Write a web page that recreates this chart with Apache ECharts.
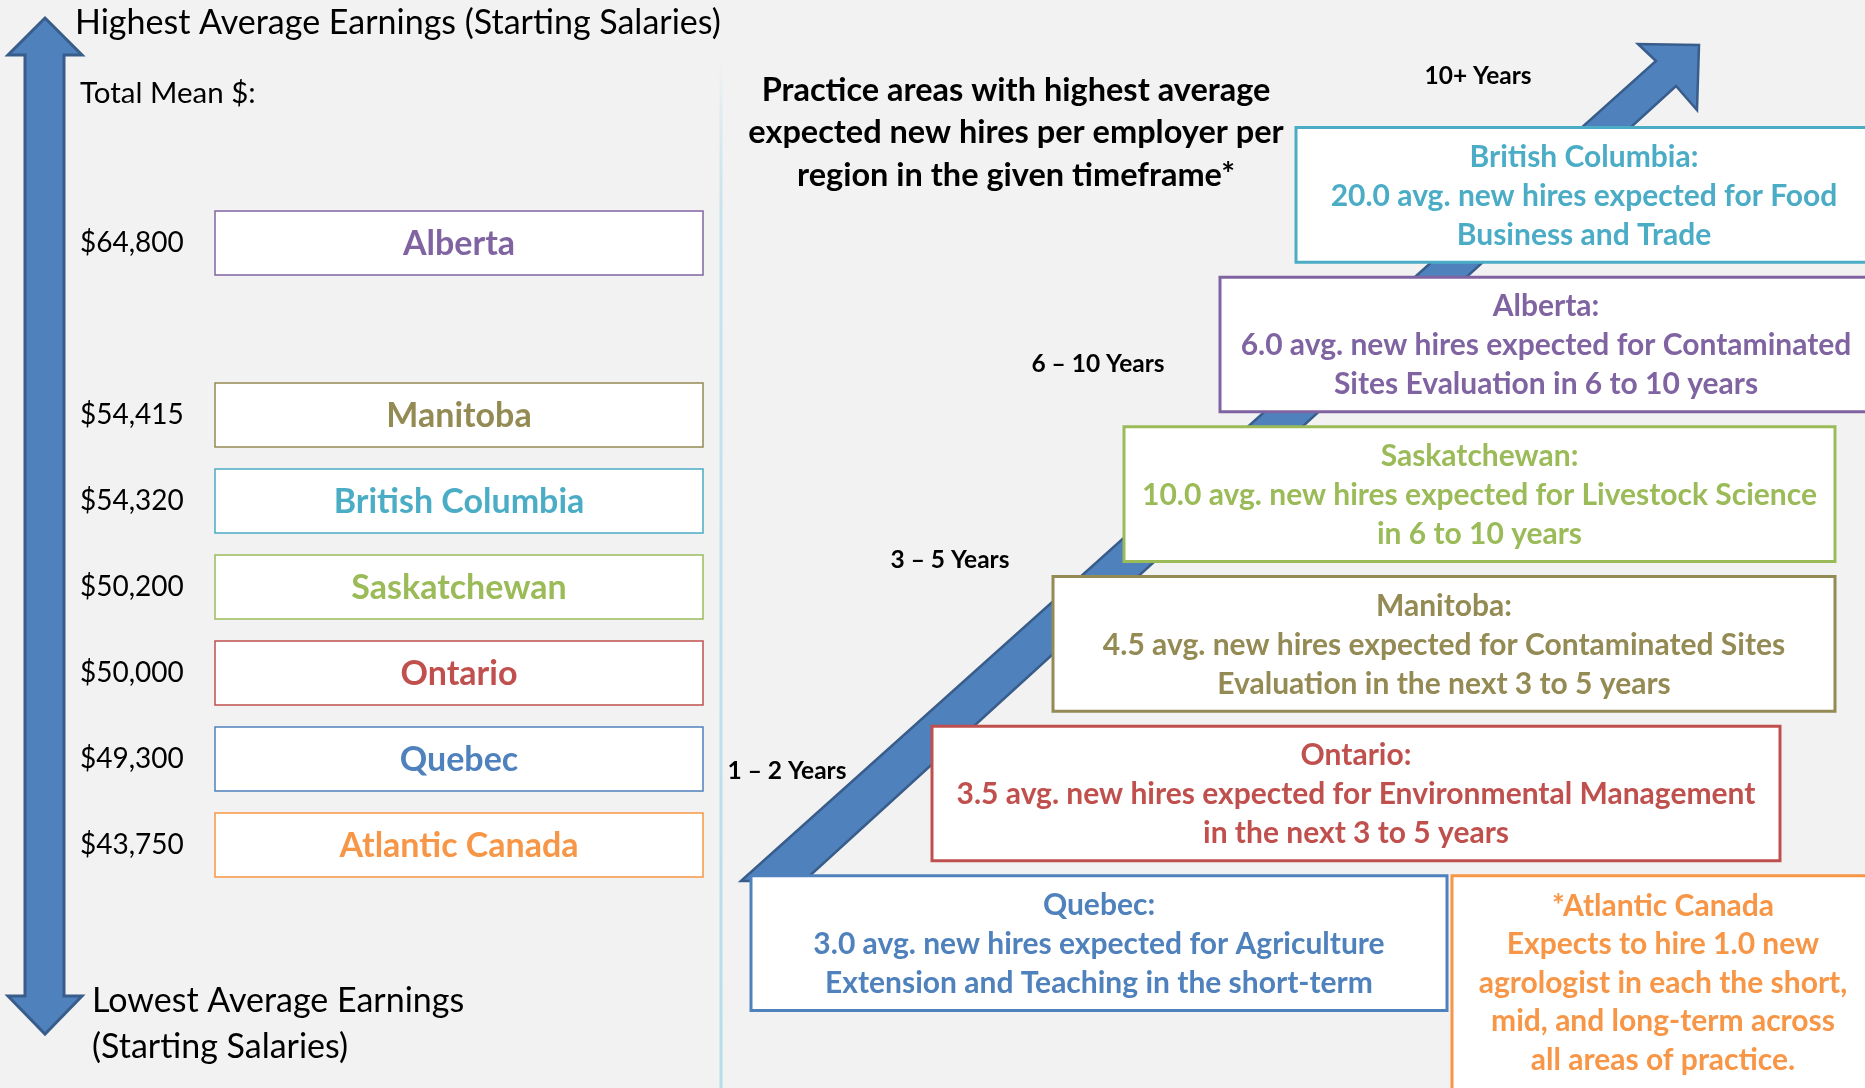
<!DOCTYPE html>
<html>
<head>
<meta charset="utf-8">
<title>Agrologist starting salaries and expected hires by region</title>
<script src="https://cdn.jsdelivr.net/npm/echarts@6/dist/echarts.min.js"></script>
<style>
  html, body { margin: 0; padding: 0; background: #f2f2f2; }
  #main { width: 1865px; height: 1088px; }
</style>
</head>
<body>
<div id="main"></div>
<script>
// left panel: total mean starting salary, highest to lowest
const provinces = ['Alberta', 'Manitoba', 'British Columbia', 'Saskatchewan', 'Ontario', 'Quebec', 'Atlantic Canada'];
const meanSalary = [64800, 54415, 54320, 50200, 50000, 49300, 43750];

// right panel: highest average expected new hires per employer
const hireRegions = ['British Columbia', 'Alberta', 'Saskatchewan', 'Manitoba', 'Ontario', 'Quebec'];
const hireAvg = [20.0, 6.0, 10.0, 4.5, 3.5, 3.0];
const hireFocus = [
  'Food\nBusiness and Trade',
  'Contaminated\nSites Evaluation in 6 to 10 years',
  'Livestock Science\nin 6 to 10 years',
  'Contaminated Sites\nEvaluation in the next 3 to 5 years',
  'Environmental Management\nin the next 3 to 5 years',
  'Agriculture\nExtension and Teaching in the short-term'
];
const atlanticHires = 1.0;
const timeframes = ['10+ Years', '6 – 10 Years', '3 – 5 Years', '1 – 2 Years'];

const FONT = 'Lato, "Open Sans", sans-serif';
const regionColor = {
  'Alberta': '#8064a2',
  'Manitoba': '#948a54',
  'British Columbia': '#4bacc6',
  'Saskatchewan': '#9bbb59',
  'Ontario': '#c0504d',
  'Quebec': '#4f81bd',
  'Atlantic Canada': '#f79646'
};

// staircase layout of the right-hand boxes (left / right edge, px)
const stairLeft = [1296, 1220, 1124, 1053, 932, 751];
const stairRight = [1872, 1872, 1835, 1835, 1780, 1447];
const atlanticSpan = [1452, 1874];
const timeframePos = [[1478, 76], [1098, 364], [950, 560], [787, 771]];

// a spare slot after Alberta leaves the gap seen in the ranking
const leftSlots = [provinces[0], ''].concat(provinces.slice(1));

const chart = echarts.init(document.getElementById('main'));

function leftBox(params, api) {
  const name = provinces[params.dataIndex];
  const a = api.coord([0, api.value(1)]);
  const b = api.coord([1, api.value(1)]);
  const h = 64;
  return {
    type: 'group',
    children: [{
      type: 'rect',
      shape: { x: a[0], y: a[1] - h / 2, width: b[0] - a[0], height: h },
      style: { fill: '#fff', stroke: regionColor[name], lineWidth: 1.5 }
    }, {
      type: 'text',
      x: (a[0] + b[0]) / 2, y: a[1] + 1,
      style: {
        text: name, fill: regionColor[name], fontFamily: FONT, fontWeight: 'bold',
        fontSize: 34, align: 'center', verticalAlign: 'middle'
      }
    }]
  };
}

function hireBox(params, api) {
  const i = params.dataIndex;
  const name = hireRegions[i];
  const c = api.coord([stairLeft[i], api.value(1)]);
  const r = api.coord([stairRight[i], api.value(1)]);
  const h = api.size([0, 1])[1] * 0.9;
  const text = name + ':\n' + hireAvg[i].toFixed(1) + ' avg. new hires expected for ' + hireFocus[i];
  return {
    type: 'group',
    children: [{
      type: 'rect',
      shape: { x: c[0], y: c[1] - h / 2, width: r[0] - c[0], height: h },
      style: { fill: '#fff', stroke: regionColor[name], lineWidth: 3 }
    }, {
      type: 'text',
      x: (c[0] + r[0]) / 2, y: c[1] + 1,
      style: {
        text: text, fill: regionColor[name], fontFamily: FONT, fontWeight: 'bold',
        fontSize: 30, lineHeight: 39, align: 'center', verticalAlign: 'middle'
      }
    }]
  };
}

function atlanticBox(params, api) {
  const c = api.coord([atlanticSpan[0], api.value(1)]);
  const r = api.coord([atlanticSpan[1], api.value(1)]);
  const h = api.size([0, 1])[1] * 0.9;
  const top = c[1] - h / 2;
  const color = regionColor['Atlantic Canada'];
  const text = '*Atlantic Canada\nExpects to hire ' + atlanticHires.toFixed(1) +
    ' new\nagrologist in each the short,\nmid, and long-term across\nall areas of practice.';
  return {
    type: 'group',
    children: [{
      type: 'rect',
      shape: { x: c[0], y: top, width: r[0] - c[0], height: 260 },
      style: { fill: '#fff', stroke: color, lineWidth: 3 }
    }, {
      type: 'text',
      x: (c[0] + r[0]) / 2, y: top + 11,
      style: {
        text: text, fill: color, fontFamily: FONT, fontWeight: 'bold',
        fontSize: 30, lineHeight: 38.5, align: 'center', verticalAlign: 'top'
      }
    }]
  };
}

const arrowStyle = { fill: '#4f81bd', stroke: '#385d8a', lineWidth: 3 };

const option = {
  backgroundColor: '#f2f2f2',
  animation: false,
  grid: [
    { left: 215, width: 488, top: 200, height: 688 },
    { left: 0, right: 0, top: 120, height: 898 }
  ],
  xAxis: [
    { type: 'value', gridIndex: 0, min: 0, max: 1, show: false },
    { type: 'value', gridIndex: 1, min: 0, max: 1865, show: false }
  ],
  yAxis: [{
    type: 'category', gridIndex: 0, inverse: true, data: leftSlots,
    axisLine: { show: false }, axisTick: { show: false }, splitLine: { show: false },
    axisLabel: {
      interval: 0, align: 'left', margin: 135, fontSize: 28, color: '#000', fontFamily: FONT,
      formatter: function (v) {
        const k = provinces.indexOf(v);
        return k < 0 ? '' : '$' + meanSalary[k].toLocaleString('en-US');
      }
    }
  }, {
    type: 'category', gridIndex: 1, inverse: true, data: hireRegions, show: false
  }],
  graphic: [
    // up/down earnings arrow
    {
      type: 'polygon', z: 1,
      shape: { points: [[45, 18], [82, 55], [64, 55], [64, 996], [82, 996], [45, 1034], [8, 996], [25, 996], [25, 55], [8, 55]] },
      style: arrowStyle
    },
    // rising timeframe arrow
    {
      type: 'polygon', z: 1,
      shape: { points: [[741, 881], [1656, 61], [1638, 44], [1699, 45], [1697, 110], [1676, 86], [804, 881]] },
      style: { fill: '#4f81bd', stroke: '#385d8a', lineWidth: 2.5 }
    },
    // panel divider
    {
      type: 'line', z: 1,
      shape: { x1: 721, y1: 63, x2: 721, y2: 1088 },
      style: {
        lineWidth: 3,
        stroke: new echarts.graphic.LinearGradient(0, 0, 0, 1, [
          { offset: 0, color: 'rgba(183,221,232,0)' },
          { offset: 0.15, color: '#c6e4ee' },
          { offset: 1, color: '#b7dde8' }
        ])
      }
    },
    {
      type: 'text', z: 3, x: 75, y: 23,
      style: { text: 'Highest Average Earnings (Starting Salaries)', fill: '#000', fontFamily: FONT, fontSize: 34, verticalAlign: 'middle' }
    },
    {
      type: 'text', z: 3, x: 80, y: 93,
      style: { text: 'Total Mean $:', fill: '#000', fontFamily: FONT, fontSize: 29.5, verticalAlign: 'middle' }
    },
    {
      type: 'text', z: 3, x: 92, y: 978,
      style: { text: 'Lowest Average Earnings\n(Starting Salaries)', fill: '#000', fontFamily: FONT, fontSize: 34, lineHeight: 46, verticalAlign: 'top' }
    },
    {
      type: 'text', z: 3, x: 1016, y: 69,
      style: {
        text: 'Practice areas with highest average\nexpected new hires per employer per\nregion in the given timeframe*',
        fill: '#000', fontFamily: FONT, fontWeight: 'bold', fontSize: 32.5, lineHeight: 42.5, align: 'center', verticalAlign: 'top'
      }
    }
  ].concat(timeframes.map(function (t, i) {
    return {
      type: 'text', z: 3, x: timeframePos[i][0], y: timeframePos[i][1],
      style: { text: t, fill: '#000', fontFamily: FONT, fontWeight: 'bold', fontSize: 24.5, align: 'center', verticalAlign: 'middle' }
    };
  })),
  series: [{
    type: 'custom', name: 'Total mean salary', xAxisIndex: 0, yAxisIndex: 0, z: 5,
    renderItem: leftBox,
    data: provinces.map(function (p, i) { return [meanSalary[i], p]; })
  }, {
    type: 'custom', name: 'Expected new hires', xAxisIndex: 1, yAxisIndex: 1, z: 5,
    renderItem: hireBox,
    data: hireRegions.map(function (r, i) { return [hireAvg[i], r]; })
  }, {
    type: 'custom', name: 'Atlantic Canada', xAxisIndex: 1, yAxisIndex: 1, z: 5,
    renderItem: atlanticBox,
    data: [[atlanticHires, 'Quebec']]
  }]
};

chart.setOption(option);
</script>
</body>
</html>
